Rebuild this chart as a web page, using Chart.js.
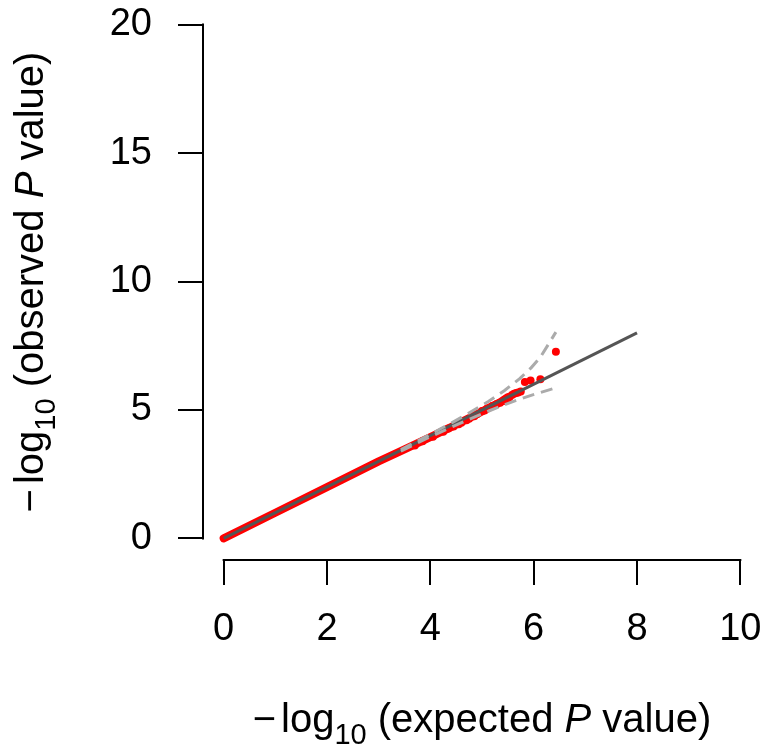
<!DOCTYPE html>
<html>
<head>
<meta charset="utf-8">
<script src="https://cdn.jsdelivr.net/npm/chart.js@4/dist/chart.umd.min.js"></script>
<style>
  body { margin: 0; background: #fff; }
  canvas { display: block; }
</style>
</head>
<body>
<canvas id="qqChart" width="766" height="747"></canvas>
<script>
// axis ticks
const xTicks = [0, 2, 4, 6, 8, 10];
const yTicks = [0, 5, 10, 15, 20];

// dense part of the observed p values (drawn as a thick band)
const bandX = [0, 1, 2, 3, 3.5, 4.0, 4.4, 4.8, 5.1, 5.35, 5.5];
const bandY = [0, 1, 2, 3, 3.47, 3.94, 4.33, 4.73, 5.05, 5.3, 5.5];

// tail of the observed p values (single points)
const tailX = [3.7, 3.85, 4.05, 4.25, 4.35, 4.45, 4.55, 4.6, 4.7, 4.75, 4.85, 4.9, 5.0, 5.05, 5.1, 5.2, 5.28, 5.35, 5.42, 5.48, 5.53, 5.58, 5.62, 5.66, 5.7, 5.75, 5.83, 5.94, 6.13, 6.43];
const tailY = [3.62, 3.78, 3.96, 4.15, 4.28, 4.36, 4.44, 4.5, 4.6, 4.66, 4.76, 4.83, 4.96, 4.98, 5.06, 5.15, 5.22, 5.28, 5.35, 5.42, 5.5, 5.58, 5.63, 5.66, 5.68, 5.72, 6.09, 6.15, 6.2, 7.27];

// confidence band
const ciX = [3.43, 3.95, 4.43, 4.73, 5.13, 5.43, 5.73, 5.95, 6.13, 6.43];
const ciUpper = [3.46, 4.0, 4.52, 4.86, 5.34, 5.75, 6.22, 6.64, 7.05, 8.03];
const ciLower = [3.4, 3.91, 4.35, 4.62, 4.96, 5.2, 5.42, 5.57, 5.68, 5.86];

// y = x reference line
const refX = [0, 8];
const refY = [0, 8];

const FONT = "'Liberation Sans', Arial, sans-serif";
const TICKSIZE = 38;
const LABSIZE = 40;
const TICKLEN = 24;

function pts(xs, ys) {
  return xs.map((x, i) => ({ x: x, y: ys[i] }));
}

////////// R style axes (line only from first to last tick)
const rAxes = {
  id: "rAxes",
  afterDraw(chart) {
    const ctx = chart.ctx;
    const xs = chart.scales.x;
    const ys = chart.scales.y;
    const area = chart.chartArea;
    ctx.save();
    ctx.strokeStyle = "#000";
    ctx.lineWidth = 2;
    ctx.lineCap = "square";

    const ax = area.bottom + 1;
    ctx.beginPath();
    ctx.moveTo(xs.getPixelForValue(xTicks[0]), ax);
    ctx.lineTo(xs.getPixelForValue(xTicks[xTicks.length - 1]), ax);
    xTicks.forEach(v => {
      const p = Math.round(xs.getPixelForValue(v));
      ctx.moveTo(p, ax);
      ctx.lineTo(p, ax + TICKLEN);
    });
    ctx.stroke();

    const ay = area.left;
    ctx.beginPath();
    ctx.moveTo(ay, ys.getPixelForValue(yTicks[0]));
    ctx.lineTo(ay, ys.getPixelForValue(yTicks[yTicks.length - 1]));
    yTicks.forEach(v => {
      const p = Math.round(ys.getPixelForValue(v));
      ctx.moveTo(ay, p);
      ctx.lineTo(ay - TICKLEN, p);
    });
    ctx.stroke();

    // axis titles
    const xParts = [
      { t: "\u2212", gap: 5 },
      { t: "log" },
      { t: "10", sub: true },
      { t: " (expected " },
      { t: "P", it: true },
      { t: " value)" }
    ];
    const yParts = [
      { t: "\u2212", gap: 5 },
      { t: "log" },
      { t: "10", sub: true },
      { t: " (observed " },
      { t: "P", it: true },
      { t: " value)" }
    ];
    ctx.fillStyle = "#000";
    drawMath(ctx, xParts, (area.left + area.right) / 2, 732, 0);
    drawMath(ctx, yParts, 43, 282, -Math.PI / 2);
    ctx.restore();
  }
};

function partFont(p) {
  const size = p.sub ? Math.round(LABSIZE * 0.72) : LABSIZE;
  return (p.it ? "italic " : "") + size + "px " + FONT;
}

function drawMath(ctx, parts, cx, cy, rot) {
  let total = 0;
  parts.forEach(p => {
    ctx.font = partFont(p);
    p.w = ctx.measureText(p.t).width + (p.gap || 0);
    total += p.w;
  });
  ctx.save();
  ctx.translate(cx, cy);
  ctx.rotate(rot);
  ctx.textBaseline = "alphabetic";
  ctx.textAlign = "left";
  let x = -total / 2;
  parts.forEach(p => {
    ctx.font = partFont(p);
    ctx.fillText(p.t, x, p.sub ? LABSIZE * 0.3 : 0);
    x += p.w;
  });
  ctx.restore();
}

// drop the extra room Chart.js keeps for edge labels
function noPad(s) {
  s.paddingTop = 0;
  s.paddingBottom = 0;
  s.paddingLeft = 0;
  s.paddingRight = 0;
}

var ctxQQ = document.getElementById("qqChart").getContext("2d");

var qqChart = new Chart(ctxQQ, {
  type: "scatter",
  data: {
    datasets: [
      {
        label: "upper",
        data: pts(ciX, ciUpper),
        showLine: true,
        borderColor: "#ababab",
        borderWidth: 3,
        borderDash: [12, 7],
        pointRadius: 0
      },
      {
        label: "lower",
        data: pts(ciX, ciLower),
        showLine: true,
        borderColor: "#ababab",
        borderWidth: 3,
        borderDash: [12, 7],
        pointRadius: 0
      },
      {
        label: "expected",
        data: pts(refX, refY),
        showLine: true,
        borderColor: "#555555",
        borderWidth: 3,
        pointRadius: 0
      },
      {
        label: "observed band",
        data: pts(bandX, bandY),
        showLine: true,
        borderColor: "#ff0000",
        borderWidth: 8,
        borderCapStyle: "round",
        borderJoinStyle: "round",
        pointRadius: 0
      },
      {
        label: "observed",
        data: pts(tailX, tailY),
        backgroundColor: "#ff0000",
        borderWidth: 0,
        pointRadius: 4
      }
    ]
  },
  options: {
    responsive: false,
    animation: false,
    layout: { padding: { top: 1, right: 5, left: 0, bottom: 0 } },
    scales: {
      x: {
        type: "linear",
        min: -0.4,
        max: 10.4,
        afterBuildTicks: s => { s.ticks = xTicks.map(v => ({ value: v })); },
        afterFit: s => { s.height = 188; noPad(s); },
        grid: { display: false, drawTicks: false },
        border: { display: false },
        ticks: {
          color: "#000",
          padding: 48,
          maxRotation: 0,
          autoSkip: false,
          font: { family: FONT, size: TICKSIZE }
        }
      },
      y: {
        type: "linear",
        min: -0.8,
        max: 20.8,
        afterBuildTicks: s => { s.ticks = yTicks.map(v => ({ value: v })); },
        afterFit: s => { s.width = 203; noPad(s); },
        grid: { display: false, drawTicks: false },
        border: { display: false },
        ticks: {
          color: "#000",
          padding: 51,
          autoSkip: false,
          font: { family: FONT, size: TICKSIZE }
        }
      }
    },
    plugins: {
      legend: { display: false },
      tooltip: { enabled: false },
      title: { display: false }
    }
  },
  plugins: [rAxes]
});
</script>
</body>
</html>
